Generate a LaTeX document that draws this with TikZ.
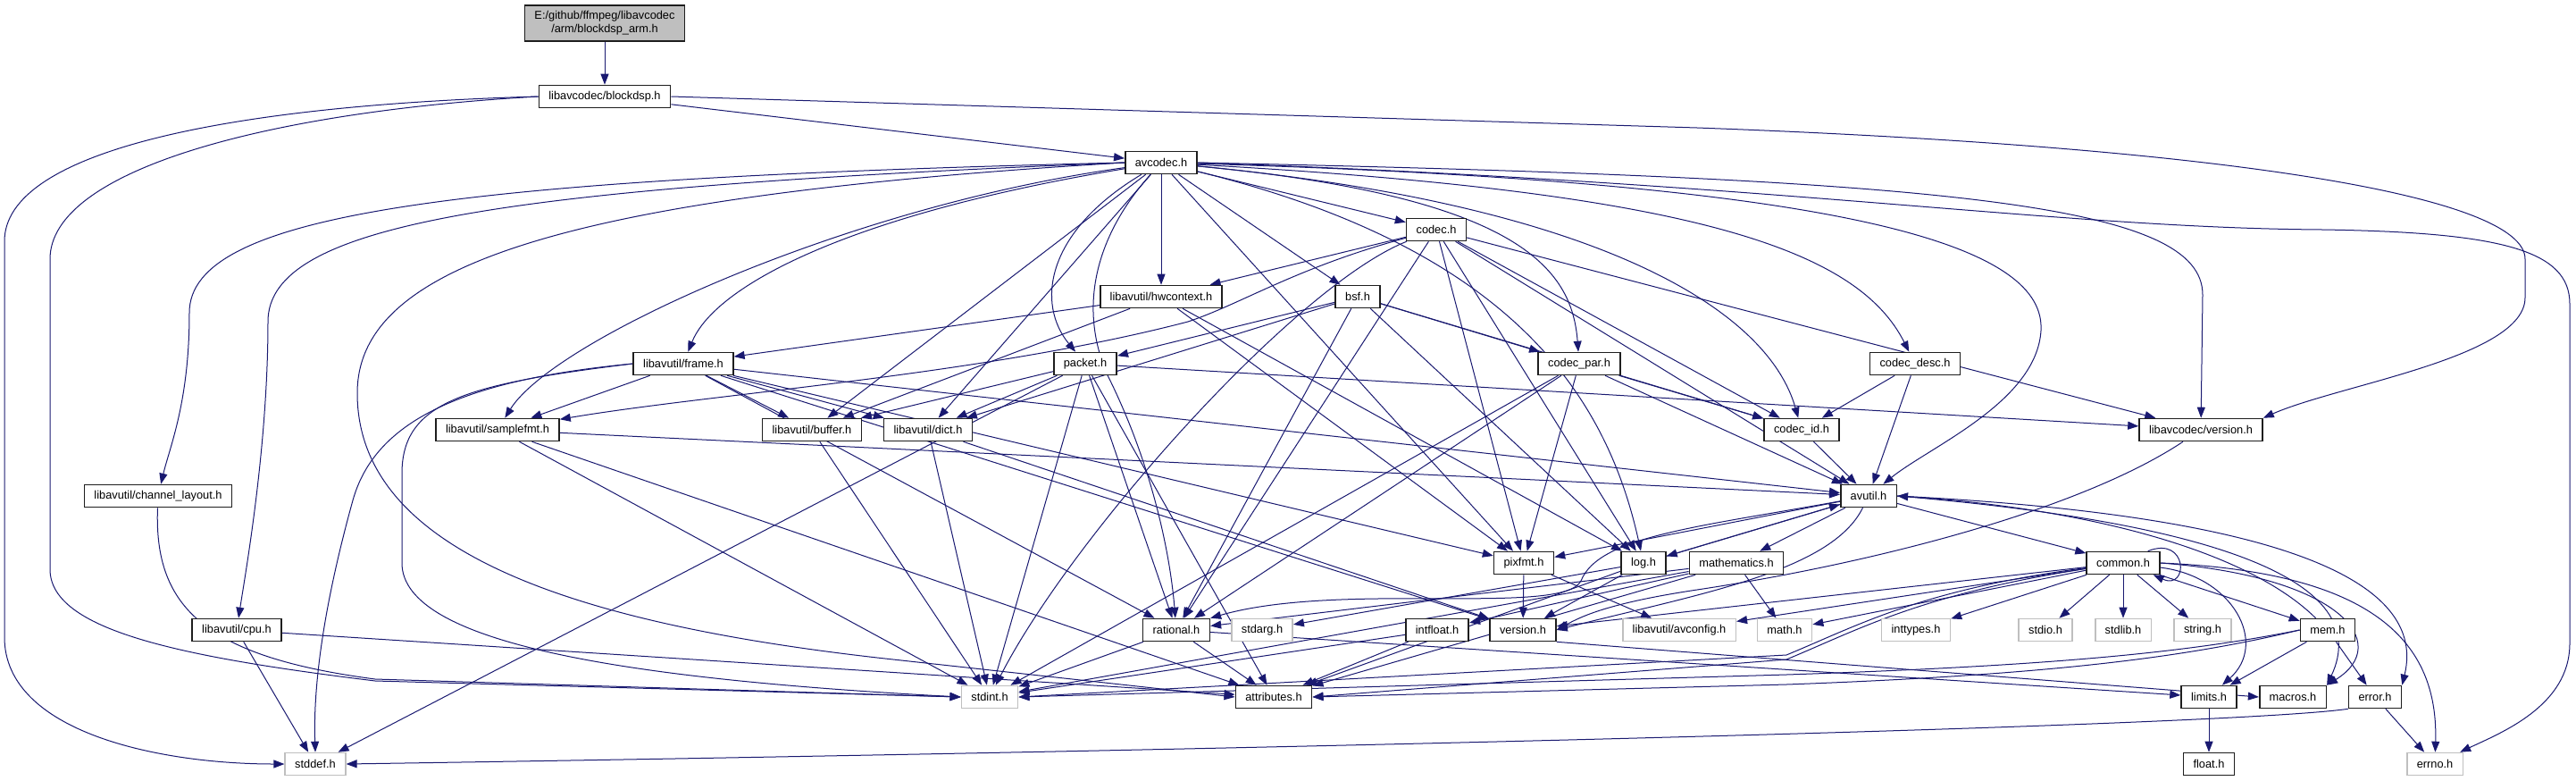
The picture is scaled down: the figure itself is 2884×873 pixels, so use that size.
\documentclass[tikz,border=0pt]{standalone}
\usepackage{fontspec}
\setmainfont{Liberation Sans}
\usepackage{xcolor}
\definecolor{edgeblue}{RGB}{25, 25, 112}
\definecolor{sysgray}{RGB}{191, 191, 191}
\definecolor{boxgray}{RGB}{30, 30, 30}
\usepackage{tikz}
\usetikzlibrary{arrows.meta, backgrounds}
\newcommand{\graphfont}{\fontsize{12.8pt}{15pt}\selectfont}

\begin{document}
\begin{tikzpicture}[x=1pt, y=-1pt,
        hdr/.style={rectangle, draw=boxgray, line width=1.6pt, fill=white, inner xsep=11pt, inner ysep=0pt, minimum height=25pt, font=\graphfont},
        syshdr/.style={hdr, draw=sysgray},
        mainhdr/.style={hdr, fill=sysgray, align=center, minimum height=40pt},
        line/.style={draw=edgeblue, line width=1pt, -{Triangle[length=12pt, width=9pt]}}]

        \useasboundingbox (0,0) rectangle (2884,873);

        \node [mainhdr] (main) at (677,26) {E:/github/ffmpeg/libavcodec\\/arm/blockdsp\_arm.h};
        \node [hdr] (blockdsp) at (677,108) {libavcodec/blockdsp.h};
        \node [hdr] (avcodec) at (1300,182) {avcodec.h};
        \node [hdr] (codec) at (1608,257) {codec.h};
        \node [hdr] (hwcontext) at (1300,332) {libavutil/hwcontext.h};
        \node [hdr] (bsf) at (1520,332) {bsf.h};
        \node [hdr] (frame) at (765,407) {libavutil/frame.h};
        \node [hdr] (packet) at (1215,407) {packet.h};
        \node [hdr] (codecpar) at (1768,407) {codec\_par.h};
        \node [hdr] (codecdesc) at (2144,407) {codec\_desc.h};
        \node [hdr] (samplefmt) at (557,481) {libavutil/samplefmt.h};
        \node [hdr] (buffer) at (909,481) {libavutil/buffer.h};
        \node [hdr] (dict) at (1039,481) {libavutil/dict.h};
        \node [hdr] (codecid) at (2017,481) {codec\_id.h};
        \node [hdr] (lavcversion) at (2464,481) {libavcodec/version.h};
        \node [hdr] (chlayout) at (177,555) {libavutil/channel\_layout.h};
        \node [hdr] (avutil) at (2092,555) {avutil.h};
        \node [hdr] (pixfmt) at (1706,630) {pixfmt.h};
        \node [hdr] (logh) at (1840,630) {log.h};
        \node [hdr] (mathematics) at (1944,630) {mathematics.h};
        \node [hdr] (common) at (2377,630) {common.h};
        \node [hdr] (cpu) at (265,705) {libavutil/cpu.h};
        \node [hdr] (rational) at (1317,705) {rational.h};
        \node [syshdr] (stdarg) at (1413,705) {stdarg.h};
        \node [hdr] (intfloat) at (1609,705) {intfloat.h};
        \node [hdr] (version) at (1705,705) {version.h};
        \node [syshdr] (avconfig) at (1880,705) {libavutil/avconfig.h};
        \node [syshdr] (mathh) at (1998,705) {math.h};
        \node [syshdr] (inttypes) at (2145,705) {inttypes.h};
        \node [syshdr] (stdio) at (2290,705) {stdio.h};
        \node [syshdr] (stdlib) at (2377,705) {stdlib.h};
        \node [syshdr] (stringh) at (2466,705) {string.h};
        \node [hdr] (mem) at (2606,705) {mem.h};
        \node [syshdr] (stdint) at (1108,780) {stdint.h};
        \node [hdr] (attributes) at (1426,780) {attributes.h};
        \node [hdr] (limits) at (2473,780) {limits.h};
        \node [hdr] (macros) at (2567,780) {macros.h};
        \node [hdr] (errorh) at (2659,780) {error.h};
        \node [syshdr] (stddef) at (353,855) {stddef.h};
        \node [hdr] (floath) at (2473,855) {float.h};
        \node [syshdr] (errno) at (2726,855) {errno.h};

        \begin{scope}[on background layer]
        \path [line] (main) -- (blockdsp);

        \path [line] (blockdsp.west) .. controls (250,118) and (5,170) .. (5,270) -- (5,713) .. controls (5,820) and (180,855) .. (stddef.west);
        \path [line] (blockdsp.west) .. controls (300,125) and (56,190) .. (56,290) -- (56,637) .. controls (56,705) and (200,735) .. (420,762) -- (stdint.west);
        \path [line] (blockdsp) -- (avcodec);
        \path [line] (blockdsp.east) -- (1900,143) .. controls (2500,165) and (2827,220) .. (2827,290) -- (2827,333) .. controls (2827,400) and (2620,430) .. (lavcversion.north east);

        \path [line] (avcodec.west) .. controls (500,200) and (212,240) .. (212,350) .. controls (212,450) and (190,500) .. (chlayout);
        \path [line] (avcodec.west) .. controls (560,210) and (300,250) .. (300,360) .. controls (300,500) and (275,640) .. (cpu);
        \path [line] (avcodec.west) .. controls (620,220) and (400,300) .. (400,440) .. controls (400,620) and (650,700) .. (1000,738) -- (attributes.west);
        \path [line] (avcodec) .. controls (950,230) and (620,380) .. (samplefmt);
        \path [line] (avcodec) .. controls (950,240) and (800,320) .. (frame);
        \path [line] (avcodec) -- (buffer);
        \path [line] (avcodec) -- (dict);
        \path [line] (avcodec) .. controls (1170,260) and (1160,340) .. (packet);
        \path [line] (avcodec) -- (hwcontext);
        \path [line] (avcodec) .. controls (1230,260) and (1205,340) .. (1240,420) .. controls (1290,520) and (1310,620) .. (rational);
        \path [line] (avcodec) -- (bsf);
        \path [line] (avcodec) -- (codec);
        \path [line] (avcodec) -- (pixfmt);
        \path [line] (avcodec) .. controls (1700,280) and (1800,450) .. (logh);
        \path [line] (avcodec) .. controls (1700,220) and (1760,300) .. (codecpar);
        \path [line] (avcodec) .. controls (1800,230) and (1980,350) .. (codecid);
        \path [line] (avcodec) .. controls (1900,215) and (2080,280) .. (codecdesc);
        \path [line] (avcodec) .. controls (2100,205) and (2290,280) .. (2285,370) .. controls (2280,450) and (2160,500) .. (avutil);
        \path [line] (avcodec.east) .. controls (2200,200) and (2466,230) .. (2466,330) -- (lavcversion);
        \path [line] (avcodec.east) .. controls (2000,205) and (2300,255) .. (2600,257) .. controls (2800,260) and (2877,280) .. (2877,340) -- (2877,720) .. controls (2877,790) and (2800,820) .. (errno);

        \path [line] (codec) -- (hwcontext);
        \path [line] (codec) .. controls (1450,300) and (1390,340) .. (1330,360) .. controls (1100,420) and (800,440) .. (samplefmt);
        \path [line] (codec) .. controls (1450,320) and (1200,600) .. (stdint);
        \path [line] (codec) -- (rational);
        \path [line] (codec) -- (pixfmt);
        \path [line] (codec) -- (logh);
        \path [line] (codec) -- (codecid);
        \path [line] (codec) -- (avutil);
        \path [line] (codec) -- (lavcversion);

        \path [line] (hwcontext) -- (frame);
        \path [line] (hwcontext) -- (buffer);
        \path [line] (hwcontext) -- (logh);
        \path [line] (hwcontext) -- (pixfmt);

        \path [line] (bsf) -- (packet);
        \path [line] (bsf) -- (dict);
        \path [line] (bsf) -- (rational);
        \path [line] (bsf) -- (logh);
        \path [line] (bsf) -- (codecpar);
        \path [line] (bsf) -- (codecid);

        \path [line] (frame.west) .. controls (520,425) and (420,470) .. (395,560) .. controls (370,650) and (350,750) .. (stddef.north);
        \path [line] (frame.west) .. controls (520,430) and (450,450) .. (450,530) -- (450,630) .. controls (450,720) and (700,760) .. (stdint.west);
        \path [line] (frame) -- (samplefmt);
        \path [line] (frame) -- (buffer);
        \path [line] (frame) -- (dict);
        \path [line] (frame) -- (rational);
        \path [line] (frame) -- (pixfmt);
        \path [line] (frame) -- (version);
        \path [line] (frame) -- (avutil);

        \path [line] (packet) -- (stddef);
        \path [line] (packet) -- (stdint);
        \path [line] (packet) -- (attributes);
        \path [line] (packet) -- (buffer);
        \path [line] (packet) -- (dict);
        \path [line] (packet) -- (rational);
        \path [line] (packet) -- (lavcversion);

        \path [line] (codecpar) -- (stdint);
        \path [line] (codecpar) -- (rational);
        \path [line] (codecpar) -- (pixfmt);
        \path [line] (codecpar) -- (avutil);
        \path [line] (codecpar) -- (codecid);

        \path [line] (codecdesc) -- (codecid);
        \path [line] (codecdesc) -- (avutil);

        \path [line] (samplefmt) -- (avutil);
        \path [line] (samplefmt) -- (stdint);
        \path [line] (samplefmt) -- (attributes);
        \path [line] (buffer) -- (stdint);
        \path [line] (dict) -- (stdint);
        \path [line] (dict) -- (version);
        \path [line] (codecid) -- (avutil);
        \path [line] (lavcversion) .. controls (2330,570) and (2100,630) .. (1900,660) .. controls (1800,675) and (1770,690) .. (version.east);
        \path [line] (chlayout) .. controls (172,680) and (230,735) .. (420,760) -- (stdint.west);

        \path [line] (avutil) -- (common);
        \path [line] (avutil) -- (mathematics);
        \path [line] (avutil) -- (logh);
        \path [line] (avutil) -- (pixfmt);
        \path [line] (avutil) .. controls (1900,590) and (1790,600) .. (1770,650) .. controls (1750,690) and (1500,650) .. (rational.north east);
        \path [line] (avutil) .. controls (2050,640) and (1900,665) .. (version.east);
        \path [line] (avutil.east) .. controls (2480,585) and (2660,650) .. (macros.north east);
        \path [line] (avutil.east) .. controls (2520,575) and (2720,640) .. (errorh.north east);

        \path [line] (logh) -- (avutil);
        \path [line] (logh) -- (stdarg);
        \path [line] (logh) -- (attributes);
        \path [line] (logh) -- (version);
        \path [line] (pixfmt) -- (avconfig);
        \path [line] (pixfmt) -- (version);

        \path [line] (mathematics) -- (stdint);
        \path [line] (mathematics) -- (attributes);
        \path [line] (mathematics) -- (rational);
        \path [line] (mathematics) -- (intfloat);
        \path [line] (mathematics) -- (mathh);

        \path [line] (common) .. controls (2150,660) and (2080,700) .. (2000,733) -- (stdint.east);
        \path [line] (common) .. controls (2150,665) and (2080,705) .. (2000,738) -- (attributes.east);
        \path [line] (common) -- (version);
        \path [line] (common) -- (avconfig);
        \path [line] (common) -- (mathh);
        \path [line] (common) -- (inttypes);
        \path [line] (common) -- (stdio);
        \path [line] (common) -- (stdlib);
        \path [line] (common) -- (stringh);
        \path [line] (common) -- (mem);
        \path [line] (common) .. controls (2500,645) and (2540,720) .. (limits);
        \path [line] (common.east) .. controls (2620,645) and (2680,720) .. (macros.north east);
        \path [line] (common.east) .. controls (2660,640) and (2730,720) .. (errno);
        \path [line] ([xshift=-14pt]common.north east) .. controls +(45,-18) and +(40,18) .. ([xshift=-8pt]common.south east);

        \path [line] (cpu) -- (stddef);
        \path [line] (cpu) -- (attributes);
        \path [line] (rational) -- (stdint);
        \path [line] (rational) -- (attributes);
        \path [line] (rational) -- (limits);
        \path [line] (intfloat) -- (stdint);
        \path [line] (intfloat) -- (attributes);
        \path [line] (version.south east) -- (macros.west);

        \path [line] (mem.west) .. controls (2450,730) and (2300,745) .. (2000,755) -- (stdint.east);
        \path [line] (mem.west) .. controls (2450,735) and (2300,755) .. (2000,766) -- (attributes.east);
        \path [line] (mem) .. controls (2520,620) and (2350,570) .. (avutil.east);
        \path [line] (mem) -- (limits);
        \path [line] (mem) -- (errorh);

        \path [line] (limits) -- (floath);
        \path [line] (errorh) -- (errno);
        \path [line] (errorh.south west) .. controls (2500,812) and (1500,838) .. (stddef.east);
        \end{scope}
    \end{tikzpicture}
\end{document}
